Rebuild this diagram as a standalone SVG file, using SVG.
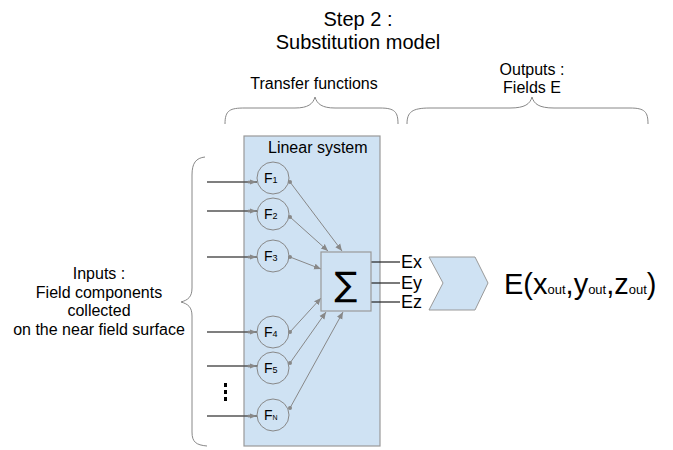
<svg xmlns="http://www.w3.org/2000/svg" width="673" height="450" viewBox="0 0 673 450">
<style>
text{font-family:"Liberation Sans",Arial,sans-serif;fill:#000}
.lbl{font-size:16px;text-anchor:middle}
.brace{fill:none;stroke:#888;stroke-width:1}
.fc{fill:none;stroke:#888;stroke-width:1}
.fl{font-size:14px}
.sub{font-size:9px}
.conn{stroke:#888;stroke-width:1;fill:none;marker-end:url(#ah);marker-start:url(#dot)}
.in{stroke:#555;stroke-width:1.3;fill:none;marker-end:url(#ah2)}
.out{stroke:#222;stroke-width:1.2}
.ev{font-size:18px}
</style>
<defs>
<marker id="ah" markerWidth="8" markerHeight="8" refX="7" refY="4" orient="auto" markerUnits="userSpaceOnUse"><path d="M0,1 L7,4 L0,7 Z" fill="#888"/></marker>
<marker id="ah2" markerWidth="12" markerHeight="8" refX="11" refY="4" orient="auto" markerUnits="userSpaceOnUse"><circle cx="3" cy="4" r="1.5" fill="#888"/><path d="M4,1.5 L11,4 L4,6.5 Z" fill="#888"/></marker>
<marker id="dot" markerWidth="6" markerHeight="6" refX="3" refY="3" markerUnits="userSpaceOnUse"><circle cx="3" cy="3" r="2" fill="#888"/></marker>
</defs>

<g id="title">
<text x="358" y="26" style="font-size:20px;text-anchor:middle">Step 2 :</text>
<text x="358" y="49" style="font-size:20px;text-anchor:middle">Substitution model</text>
</g>

<g id="transfer-label">
<text class="lbl" x="314" y="89">Transfer functions</text>
<path class="brace" d="M225,124 C225,110 230,108 245,108 L295,108 C308,108 313,104 315,97 C317,104 322,108 335,108 L380,108 C395,108 398,112 398,124"/>
</g>

<g id="outputs-label">
<text class="lbl" x="532" y="75">Outputs :</text>
<text class="lbl" x="532" y="93">Fields E</text>
<path class="brace" d="M407,124 C407,112 412,108 430,108 L510,108 C525,108 530,104 532,97 C534,104 539,108 554,108 L630,108 C645,108 648,112 648,124"/>
</g>

<g id="inputs-label">
<text class="lbl" x="99" y="279">Inputs :</text>
<text class="lbl" x="99" y="298">Field components</text>
<text class="lbl" x="99" y="316">collected</text>
<text class="lbl" x="99" y="335">on the near field surface</text>
<path class="brace" d="M205,157 C196,158 192,163 192,175 L192,288 C192,297 188,300 181,302 C188,304 192,307 192,316 L192,432 C192,442 196,445 207,446"/>
</g>

<g id="linear-system">
<rect x="244" y="136" width="136" height="310" fill="#cfe2f3" stroke="#999" stroke-width="1.2"/>
<text x="268" y="153" style="font-size:16px">Linear system</text>
</g>

<g id="connectors">
<line class="in" x1="207" y1="182" x2="257" y2="182"/>
<line class="in" x1="207" y1="211" x2="257" y2="211"/>
<line class="in" x1="207" y1="257" x2="257" y2="257"/>
<line class="in" x1="207" y1="332" x2="257" y2="332"/>
<line class="in" x1="207" y1="366" x2="257" y2="366"/>
<line class="in" x1="207" y1="416" x2="257" y2="416"/>
<line class="conn" x1="290" y1="182" x2="342" y2="251"/>
<line class="conn" x1="290" y1="217" x2="328" y2="251"/>
<line class="conn" x1="290" y1="257" x2="321" y2="269"/>
<line class="conn" x1="290" y1="332" x2="321" y2="298"/>
<line class="conn" x1="290" y1="363" x2="326" y2="312"/>
<line class="conn" x1="290" y1="408" x2="343" y2="312"/>
<line class="out" x1="371" y1="262" x2="400" y2="262"/>
<line class="out" x1="371" y1="283" x2="400" y2="283"/>
<line class="out" x1="371" y1="302" x2="400" y2="302"/>
</g>

<g id="F1"><circle class="fc" cx="273" cy="178" r="16"/><text class="fl" x="264" y="183">F<tspan class="sub">1</tspan></text></g>
<g id="F2"><circle class="fc" cx="273" cy="214" r="16"/><text class="fl" x="264" y="219">F<tspan class="sub">2</tspan></text></g>
<g id="F3"><circle class="fc" cx="273" cy="256" r="16"/><text class="fl" x="264" y="261">F<tspan class="sub">3</tspan></text></g>
<g id="F4"><circle class="fc" cx="273" cy="332" r="16"/><text class="fl" x="264" y="337">F<tspan class="sub">4</tspan></text></g>
<g id="F5"><circle class="fc" cx="273" cy="368" r="16"/><text class="fl" x="264" y="373">F<tspan class="sub">5</tspan></text></g>
<g id="FN"><circle class="fc" cx="273" cy="415" r="16"/><text class="fl" x="264" y="420">F<tspan style="font-size:7px">N</tspan></text></g>

<g id="ellipsis">
<rect x="224" y="383" width="3" height="4" fill="#000"/>
<rect x="224" y="390" width="3" height="4" fill="#000"/>
<rect x="224" y="397" width="3" height="4" fill="#000"/>
</g>

<g id="sum">
<rect x="321" y="252" width="50" height="59" fill="#cfe2f3" stroke="#999" stroke-width="1.2"/>
<text x="346" y="296" style="font-size:34px;text-anchor:middle;font-family:'DejaVu Sans',sans-serif">∑</text>
</g>

<g id="outputs">
<text class="ev" x="401" y="268">Ex</text>
<text class="ev" x="401" y="289">Ey</text>
<text class="ev" x="401" y="308">Ez</text>
</g>

<g id="chevron">
<polygon points="429,257 475,257 488,283 475,310 429,310 443,283" fill="#cfe2f3" stroke="#999" stroke-width="1"/>
</g>

<g id="result">
<text x="504" y="294" style="font-size:29px">E(x<tspan style="font-size:13px">out</tspan>,y<tspan style="font-size:13px">out</tspan>,z<tspan style="font-size:13px">out</tspan>)</text>
</g>
</svg>
